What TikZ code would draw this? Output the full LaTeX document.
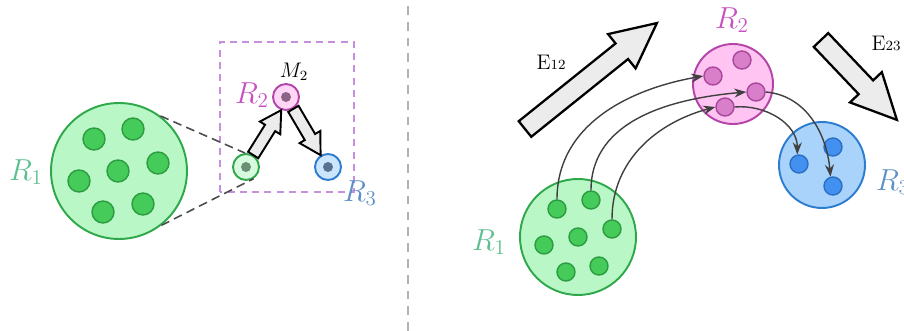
\documentclass[tikz,border=0pt]{standalone}
\usepackage{tikz}
\usetikzlibrary{arrows.meta, calc, positioning}
\usepackage{amsmath}
\definecolor{grnfill}{HTML}{B9F7C6}
\definecolor{grnline}{HTML}{2EA84A}
\definecolor{grndot}{HTML}{45CB5A}
\definecolor{grndotline}{HTML}{2C9C40}
\definecolor{pnkfill}{HTML}{FFC4F2}
\definecolor{pnkline}{HTML}{B245A8}
\definecolor{pnkdot}{HTML}{D97FC9}
\definecolor{pnkdotline}{HTML}{A8479C}
\definecolor{blufill}{HTML}{A9D3FA}
\definecolor{bluline}{HTML}{2C7CCF}
\definecolor{bludot}{HTML}{4290F0}
\definecolor{bludotline}{HTML}{2A6FC4}
\definecolor{lblgreen}{HTML}{5CBF8F}
\definecolor{lblpink}{HTML}{C850C2}
\definecolor{lblblue}{HTML}{5E8FC6}
\definecolor{boxpurple}{HTML}{C78FE0}
\definecolor{gcore}{HTML}{6C8E74}
\definecolor{pcore}{HTML}{8C6586}
\definecolor{bcore}{HTML}{5A7290}

% fat block arrow: [style] start, end, half shaft, half head, head length
\newcommand{\fatarrow}[6][]{%
  \draw[fatarrow, #1] let \p1=(#2), \p2=(#3),
      \n1={atan2(\y2-\y1,\x2-\x1)}, \n2={veclen(\x2-\x1,\y2-\y1)} in
    [shift={(\p1)}, rotate=\n1]
    (0pt,-#4) -- (\n2-#6,-#4) -- (\n2-#6,-#5) -- (\n2,0pt)
    -- (\n2-#6,#5) -- (\n2-#6,#4) -- (0pt,#4) -- cycle;}

\begin{document}
\begin{tikzpicture}[x=0.02cm, y=0.02cm]
    \tikzstyle{region}=[circle, line width=1.1pt, inner sep=0pt]
    \tikzstyle{dot}=[circle, line width=0.8pt, inner sep=0pt]
    \tikzstyle{lbl}=[font=\LARGE]
    \tikzstyle{fatarrow}=[draw=black, fill=gray!15, line width=1.3pt, line join=miter]
    \tikzstyle{flow}=[draw=black!75, line width=0.8pt, -{Stealth[length=2.4mm, width=1.8mm]}]
    \useasboundingbox (0,0) rectangle (904,331);

    % Separator
    \draw[gray!60, dashed, line width=0.8pt, dash pattern=on 5pt off 4pt] (408,0) -- (408,331);

    % Left panel: region R1
    \node[region, draw=grnline, fill=grnfill, minimum size=2.72cm] (lr1) at (119,160) {};
    \foreach \x/\y in {94/192,133/202,118/160,158/168,79/150,103/119,143/127} {
        \node[dot, draw=grndotline, fill=grndot, minimum size=0.44cm] at (\x,\y) {};
    }
    \node[lbl, text=lblgreen] at (26,159) {$R_1$};

    % Left panel: zoomed motif
    \draw[boxpurple, dashed, line width=0.8pt, dash pattern=on 4pt off 3pt] (220,139) rectangle (354,289);
    \node[region, draw=grnline, fill=grnfill!60, minimum size=0.52cm] (lg) at (246,164) {};
    \node[region, draw=pnkline, fill=pnkfill!70, minimum size=0.52cm] (lp) at (286,234) {};
    \node[region, draw=bluline, fill=blufill!60, minimum size=0.52cm] (lb) at (328,164) {};
    \fill[gcore] (lg) circle (5);
    \fill[pcore] (lp) circle (5);
    \fill[bcore] (lb) circle (5);
    \draw[black!70, dashed, line width=0.9pt, dash pattern=on 5pt off 3pt] (lr1.53) -- (lg.94);
    \draw[black!70, dashed, line width=0.9pt, dash pattern=on 5pt off 3pt] (lr1.-52) -- (lg.-57);
    \node[font=\fontsize{12}{14}\selectfont] at (294,259) {$M_2$};
    \node[lbl, text=lblpink] at (252,236) {$R_2$};
    \node[lbl, text=lblblue] at (360,138) {$R_3$};
    \fatarrow[line width=1.1pt]{lg.59}{lp.250}{0.12cm}{0.24cm}{0.42cm}
    \fatarrow[line width=1.1pt]{lp.302}{lb.122}{0.12cm}{0.24cm}{0.42cm}

    % Right panel: regions
    \node[region, draw=grnline, fill=grnfill, minimum size=2.32cm] (rr1) at (578,94) {};
    \node[region, draw=pnkline, fill=pnkfill, minimum size=1.6cm] (rr2) at (733,247) {};
    \node[region, draw=bluline, fill=blufill, minimum size=1.72cm] (rr3) at (822,166) {};
    \foreach \x/\y/\name in {557/122/a,591/131/b,612/102/c,578/94/d,544/86/e,566/59/f,599/65/g} {
        \node[dot, draw=grndotline, fill=grndot, minimum size=0.36cm] (g\name) at (\x,\y) {};
    }
    \foreach \x/\y/\name in {742/271/a,713/255/b,756/239/c,725/224/d} {
        \node[dot, draw=pnkdotline, fill=pnkdot, minimum size=0.36cm] (p\name) at (\x,\y) {};
    }
    \foreach \x/\y/\name in {833/184/a,799/167/b,833/145/c} {
        \node[dot, draw=bludotline, fill=bludot, minimum size=0.36cm] (b\name) at (\x,\y) {};
    }
    \node[lbl, text=lblgreen] at (489,89) {$R_1$};
    \node[lbl, text=lblpink] at (732,311) {$R_2$};
    \node[lbl, text=lblblue] at (893,149) {$R_3$};

    % Flows between units
    \draw[flow] (ga.north) to[out=90, in=190] (pb.west);
    \draw[flow] (gb.north) to[out=90, in=185] (pc.west);
    \draw[flow] (gc.north) to[out=90, in=195] (pd.west);
    \draw[flow] (pd.east) to[out=5, in=90] (bb.100);
    \draw[flow] (pc.east) to[out=-5, in=95] (bc.105);

    % Edge arrows
    \coordinate (e12s) at (525,202);
    \coordinate (e12t) at (657,308);
    \coordinate (e23s) at (821,291);
    \coordinate (e23t) at (897,211);
    \fatarrow{e12s}{e12t}{0.2cm}{0.44cm}{0.9cm}
    \fatarrow{e23s}{e23t}{0.2cm}{0.44cm}{0.9cm}
    \node[font=\fontsize{12}{14}\selectfont] at (551,269) {E{\fontsize{8}{9}\selectfont 12}};
    \node[font=\fontsize{12}{14}\selectfont] at (886,288) {E{\fontsize{8}{9}\selectfont 23}};
\end{tikzpicture}
\end{document}
